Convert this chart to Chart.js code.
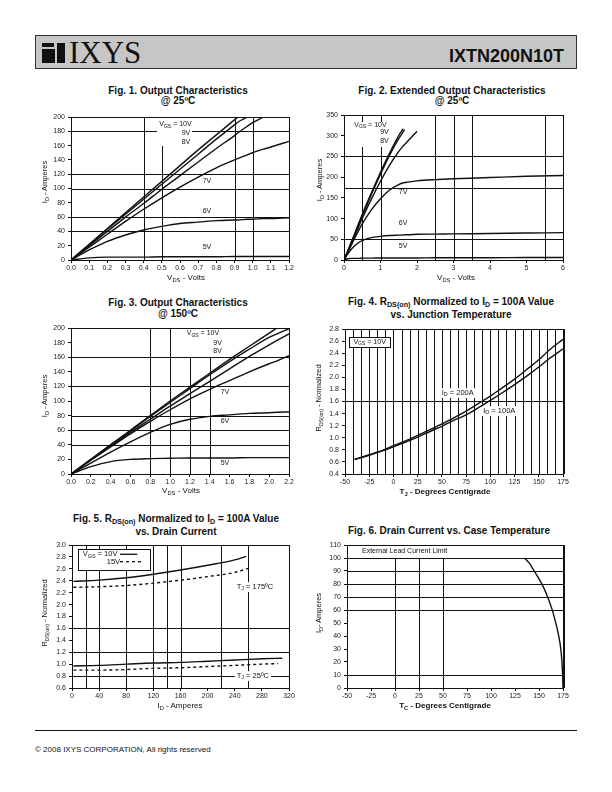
<!DOCTYPE html>
<html>
<head>
<meta charset="utf-8">
<script src="https://cdn.jsdelivr.net/npm/chart.js@4.4.1/dist/chart.umd.min.js"></script>
<style>
	body {
		margin: 0;
		width: 612px;
		height: 792px;
		position: relative;
		overflow: hidden;
		background: #fff;
		font-family: "Liberation Sans", Arial, sans-serif;
		color: #111;
	}
	canvas { position: absolute; }
	.t { position: absolute; white-space: nowrap; line-height: 1; transform: translate(-50%, -50%); }
	.fig { font-weight: bold; font-size: 10px; }
	.ax { font-size: 8px; }
	.axb { font-size: 8px; font-weight: bold; }
	.yt { font-size: 7.5px; transform: translate(-50%, -50%) rotate(-90deg); }
	.s { font-size: 0.72em; vertical-align: -0.3em; }
	.hdr { position: absolute; left: 35px; top: 35px; width: 540px; height: 32px; background: #c6c6c6; border: 1px solid #333; }
	.blk { position: absolute; background: #111; }
</style>
</head>
<body>

<!-- header -->
<div class="hdr"></div>
<div class="blk" style="left:42px;top:43px;width:12px;height:4px;"></div>
<div class="blk" style="left:42px;top:49px;width:13px;height:14px;"></div>
<div class="blk" style="left:57px;top:43px;width:8px;height:20px;"></div>
<div style="position:absolute;left:69px;top:37px;font:31px 'Liberation Serif','Times New Roman',serif;line-height:1;color:#111;">IXYS</div>
<div style="position:absolute;right:48px;top:46.5px;font:bold 18px 'Liberation Sans',Arial,sans-serif;line-height:1;color:#111;">IXTN200N10T</div>

<canvas id="fig1"></canvas>
<canvas id="fig2"></canvas>
<canvas id="fig3"></canvas>
<canvas id="fig4"></canvas>
<canvas id="fig5"></canvas>
<canvas id="fig6"></canvas>

<!-- titles -->
<div class="t fig" style="left:178px;top:91px;">Fig. 1. Output Characteristics</div>
<div class="t fig" style="left:178px;top:100.5px;">@ 25ºC</div>
<div class="t fig" style="left:452px;top:91px;">Fig. 2. Extended Output Characteristics</div>
<div class="t fig" style="left:452px;top:100.5px;">@ 25ºC</div>
<div class="t fig" style="left:178px;top:303px;">Fig. 3. Output Characteristics</div>
<div class="t fig" style="left:178px;top:313.5px;">@ 150ºC</div>
<div class="t fig" style="left:451px;top:303px;">Fig. 4. R<span class="s">DS(on)</span> Normalized to I<span class="s">D</span> = 100A Value</div>
<div class="t fig" style="left:451px;top:315px;">vs. Junction Temperature</div>
<div class="t fig" style="left:176px;top:520px;">Fig. 5. R<span class="s">DS(on)</span> Normalized to I<span class="s">D</span> = 100A Value</div>
<div class="t fig" style="left:176px;top:531.5px;">vs. Drain Current</div>
<div class="t fig" style="left:449px;top:531px;">Fig. 6. Drain Current vs. Case Temperature</div>

<!-- axis titles -->
<div class="t ax" style="left:186px;top:279px;">V<span class="s">DS</span> - Volts</div>
<div class="t ax" style="left:456px;top:279px;">V<span class="s">DS</span> - Volts</div>
<div class="t ax" style="left:181px;top:492px;">V<span class="s">DS</span> - Volts</div>
<div class="t axb" style="left:445px;top:493px;">T<span class="s">J</span> - Degrees Centigrade</div>
<div class="t ax" style="left:180px;top:707px;">I<span class="s">D</span> - Amperes</div>
<div class="t axb" style="left:445px;top:707px;">T<span class="s">C</span> - Degrees Centigrade</div>

<div class="t yt" style="left:46px;top:182px;">I<span class="s">D</span> - Amperes</div>
<div class="t yt" style="left:321px;top:180px;">I<span class="s">D</span> - Amperes</div>
<div class="t yt" style="left:46px;top:396px;">I<span class="s">D</span> - Amperes</div>
<div class="t yt" style="left:320px;top:398px;">R<span class="s">DS(on)</span> - Normalized</div>
<div class="t yt" style="left:46px;top:613px;">R<span class="s">DS(on)</span> - Normalized</div>
<div class="t yt" style="left:320px;top:613px;">I<span class="s">D</span>- Amperes</div>

<!-- footer -->
<div style="position:absolute;left:35px;top:730px;width:542px;height:1px;background:#111;"></div>
<div class="t" style="left:35px;top:750px;transform:translate(0,-50%);font-size:8px;">© 2008 IXYS CORPORATION, All rights reserved</div>

<script type="text/javascript">
	// ---- Fig. 1  output characteristics @25C ----
	var fig1Vds   = [0, 0.1, 0.2, 0.3, 0.4, 0.5, 0.6, 0.7, 0.8, 0.9, 0.92, 0.97, 1.0, 1.06, 1.1, 1.2];
	var fig1Id10V = [0, 22, 44, 66, 88, 110, 132, 154, 175, 196, 200, null, null, null, null, null];
	var fig1Id9V  = [0, 21, 43, 64, 85, 106, 127, 148, 169, 189, 193, 200, null, null, null, null];
	var fig1Id8V  = [0, 20, 40, 60, 79, 99, 118, 137, 156, 174, 178, 187, 192, 200, null, null];
	var fig1Id7V  = [0, 18, 36, 54, 71, 87, 102, 116, 129, 140, 142, 147, 150, 155, 158, 166];
	var fig1Id6V  = [0, 14, 26, 35, 42, 47, 51, 53, 55, 56, 56, 57, 57, 58, 58, 59];
	var fig1Id5V  = [0, 3, 4, 4, 4, 4.5, 4.5, 4.5, 4.5, 5, 5, 5, 5, 5, 5, 5];

	// ---- Fig. 2  extended output characteristics @25C ----
	var fig2Vds   = [0, 0.1, 0.2, 0.3, 0.4, 0.5, 0.75, 1.0, 1.25, 1.5, 1.62, 1.66, 1.75, 2.0, 2.5, 3, 4, 5, 6];
	var fig2Id10V = [0, 21, 43, 65, 88, 110, 162, 212, 258, 300, 317, null, null, null, null, null, null, null, null];
	var fig2Id9V  = [0, 21, 42, 64, 86, 107, 158, 207, 253, 293, 309, 315, null, null, null, null, null, null, null];
	var fig2Id8V  = [0, 20, 40, 60, 80, 100, 147, 190, 229, 262, 275, 279, 287, 311, null, null, null, null, null];
	var fig2Id7V  = [0, 18, 36, 54, 71, 87, 121, 148, 169, 182, 186, 187, 188, 191, 194, 196, 199, 202, 204];
	var fig2Id6V  = [0, 14, 26, 35, 42, 47, 54, 57, 59, 60, 60.5, 61, 61, 62, 62.5, 63, 64, 65, 66];
	var fig2Id5V  = [0, 3, 4, 4, 4, 4.5, 4.5, 5, 5, 5, 5, 5, 5, 5, 5.5, 5.5, 5.5, 6, 6];

	// ---- Fig. 3  output characteristics @150C ----
	var fig3Vds   = [0, 0.2, 0.4, 0.6, 0.8, 1.0, 1.2, 1.4, 1.6, 1.8, 2.0, 2.08, 2.2];
	var fig3Id10V = [0, 20, 40, 60, 80, 100, 119, 138, 157, 175, 193, 200, null];
	var fig3Id9V  = [0, 20, 40, 59, 79, 98, 117, 136, 154, 171, 187, 192, 199];
	var fig3Id8V  = [0, 19, 38, 57, 75, 93, 110, 127, 144, 161, 177, 183, 192];
	var fig3Id7V  = [0, 19, 37, 55, 72, 88, 103, 116, 128, 140, 151, 155, 162];
	var fig3Id6V  = [0, 15, 30, 44, 57, 68, 75, 79, 81, 83, 84, 84.5, 85];
	var fig3Id5V  = [0, 10, 17, 20, 21, 21.5, 22, 22, 22, 22.5, 22.5, 22.5, 22.5];

	// ---- Fig. 4  Rds(on) vs junction temperature ----
	var fig4Tj    = [-40, -25, -10, 0, 10, 25, 40, 50, 60, 75, 90, 100, 110, 125, 140, 150, 160, 175];
	var fig4R200A = [0.64, 0.72, 0.80, 0.87, 0.93, 1.04, 1.15, 1.23, 1.31, 1.44, 1.59, 1.69, 1.80, 1.97, 2.16, 2.29, 2.44, 2.63];
	var fig4R100A = [0.64, 0.71, 0.79, 0.85, 0.91, 1.01, 1.12, 1.19, 1.27, 1.38, 1.52, 1.62, 1.72, 1.88, 2.05, 2.17, 2.30, 2.47];

	// ---- Fig. 5  Rds(on) vs drain current ----
	var fig5IdHot10   = [2, 40, 80, 120, 160, 200, 240, 257];
	var fig5RHot10    = [2.39, 2.41, 2.45, 2.51, 2.58, 2.66, 2.75, 2.81];
	var fig5IdHot15   = [2, 40, 80, 120, 160, 200, 240, 263];
	var fig5RHot15    = [2.29, 2.30, 2.32, 2.36, 2.41, 2.47, 2.54, 2.62];
	var fig5IdCold10  = [2, 40, 80, 120, 160, 200, 240, 280, 310];
	var fig5RCold10   = [0.97, 0.98, 1.00, 1.02, 1.03, 1.05, 1.07, 1.09, 1.10];
	var fig5IdCold15  = [2, 40, 80, 120, 160, 200, 240, 280, 304];
	var fig5RCold15   = [0.90, 0.90, 0.91, 0.93, 0.94, 0.96, 0.98, 1.00, 1.01];

	// ---- Fig. 6  drain current vs case temperature ----
	var fig6Tc = [135, 140, 145, 150, 155, 160, 165, 170, 173, 174.5, 175];
	var fig6Id = [100, 96, 90, 84, 77, 68, 57, 42, 28, 12, 0];

	// grid lines actually printed on each plot ([value, from, to] = partial line)
	var fig1GridV = [0.4, [0.5, 0, 160], 0.9, 1.0];
	var fig1GridH = [180, 120, 100, 60, 40];
	var fig2GridV = [0.5, 1.0, 2.5, 3.0, 3.5, 5.5];
	var fig2GridH = [250, 175, 50];
	var fig3GridV = [0.8, 1.0, [1.2, 0, 160], [1.4, 0, 160]];
	var fig3GridH = [160, 120, 80, 60, 40];
	var fig4GridV = [-41.67, -33.33, -25, -16.67, -8.33, 0, 8.33, 16.67, 25, 33.33, 41.67, 50, 58.33, 66.67,
		75, 83.33, 91.67, 100, 108.33, 116.67, 125, 133.33, 141.67, 150, 158.33, 166.67];
	var fig4GridH = [1.6];
	var fig5GridV = [20, 40, 80, 120, 140, 160, 220, 260];
	var fig5GridH = [1.6, 1.2, 0.8];
	var fig6GridV = [[0, 0, 100], [25, 0, 100], [50, 0, 100]];
	var fig6GridH = [100, 90, 80, 70, 60, 10];

	var FONT = '"Liberation Sans", Arial, sans-serif';
	Chart.defaults.font.family = FONT;
	Chart.defaults.font.size = 7;
	Chart.defaults.color = '#222';

	var YW = 40, PT = 8, PR = 14, XH = 16;

	function pts(xs, ys) {
		var out = [];
		xs.forEach(function(x, i) {
			if (ys[i] !== null && ys[i] !== undefined) out.push({x: x, y: ys[i]});
		});
		return out;
	}

	// text with _{sub} parts
	function drawRich(ctx, str, x, y, size, align, bold) {
		var segs = [], re = /_\{([^}]*)\}/g, last = 0, m;
		while ((m = re.exec(str))) {
			if (m.index > last) segs.push({t: str.slice(last, m.index)});
			segs.push({t: m[1], sub: true});
			last = re.lastIndex;
		}
		if (last < str.length) segs.push({t: str.slice(last)});
		var f = function(s) { return (bold ? 'bold ' : '') + s + 'px ' + FONT; };
		var w = 0;
		segs.forEach(function(s) { ctx.font = f(s.sub ? size * 0.72 : size); s.w = ctx.measureText(s.t).width; w += s.w; });
		if (ctx.__measureOnly) return w;
		var cx = align === 'center' ? x - w / 2 : (align === 'right' ? x - w : x);
		ctx.textBaseline = 'middle';
		ctx.textAlign = 'left';
		ctx.fillStyle = '#111';
		segs.forEach(function(s) {
			ctx.font = f(s.sub ? size * 0.72 : size);
			ctx.fillText(s.t, cx, s.sub ? y + size * 0.3 : y);
			cx += s.w;
		});
		return w;
	}

	var sheetPlugin = {
		id: 'sheet',
		beforeDatasetsDraw: function(chart) {
			var o = chart.options.plugins.sheet, ctx = chart.ctx, a = chart.chartArea;
			var sx = chart.scales.x, sy = chart.scales.y;
			var snap = function(v) { return Math.round(v) + 0.5; };
			ctx.save();
			ctx.beginPath();
			ctx.rect(a.left, a.top, a.right - a.left, a.bottom - a.top);
			ctx.clip();
			ctx.strokeStyle = '#111';
			ctx.lineWidth = 1;
			(o.gridV || []).forEach(function(g) {
				var v = Array.isArray(g) ? g : [g, sy.min, sy.max];
				var px = snap(sx.getPixelForValue(v[0]));
				ctx.beginPath();
				ctx.moveTo(px, sy.getPixelForValue(v[1]));
				ctx.lineTo(px, sy.getPixelForValue(v[2]));
				ctx.stroke();
			});
			(o.gridH || []).forEach(function(g) {
				var v = Array.isArray(g) ? g : [g, sx.min, sx.max];
				var py = snap(sy.getPixelForValue(v[0]));
				ctx.beginPath();
				ctx.moveTo(sx.getPixelForValue(v[1]), py);
				ctx.lineTo(sx.getPixelForValue(v[2]), py);
				ctx.stroke();
			});
			(o.boxes || []).forEach(function(b) {
				var x0 = Math.round(sx.getPixelForValue(b.x0)), x1 = Math.round(sx.getPixelForValue(b.x1));
				var y0 = Math.round(sy.getPixelForValue(b.y1)), y1 = Math.round(sy.getPixelForValue(b.y0));
				ctx.fillStyle = '#fff';
				ctx.fillRect(x0, y0, x1 - x0, y1 - y0);
				if (b.border) {
					ctx.lineWidth = 1;
					ctx.strokeRect(x0 + 0.5, y0 + 0.5, x1 - x0, y1 - y0);
				}
			});
			(o.notes || []).forEach(function(n) {
				var size = n.size || 7;
				var px = sx.getPixelForValue(n.x), py = sy.getPixelForValue(n.y);
				if (n.bg) {
					ctx.__measureOnly = true;
					var w = drawRich(ctx, n.text, px, py, size, n.align, n.bold);
					ctx.__measureOnly = false;
					var lx = n.align === 'center' ? px - w / 2 : (n.align === 'right' ? px - w : px);
					ctx.fillStyle = '#fff';
					ctx.fillRect(lx - 2, py - size * 0.6, w + 4, size * 1.3);
				}
				drawRich(ctx, n.text, px, py, size, n.align, n.bold);
			});
			(o.samples || []).forEach(function(s) {
				ctx.beginPath();
				ctx.lineWidth = 1.3;
				ctx.setLineDash(s.dash || []);
				var py = sy.getPixelForValue(s.y);
				ctx.moveTo(sx.getPixelForValue(s.x0), py);
				ctx.lineTo(sx.getPixelForValue(s.x1), py);
				ctx.stroke();
				ctx.setLineDash([]);
			});
			ctx.restore();
		},
		afterDatasetsDraw: function(chart) {
			var o = chart.options.plugins.sheet, ctx = chart.ctx, a = chart.chartArea;
			ctx.save();
			ctx.strokeStyle = '#111';
			ctx.lineWidth = 1;
			ctx.strokeRect(Math.round(a.left) + 0.5, Math.round(a.top) + 0.5,
				Math.round(a.right) - Math.round(a.left), Math.round(a.bottom) - Math.round(a.top));
			if (o.thickRight) {
				ctx.lineWidth = 2;
				ctx.beginPath();
				ctx.moveTo(Math.round(a.right) + 1, a.top);
				ctx.lineTo(Math.round(a.right) + 1, a.bottom);
				ctx.stroke();
			}
			ctx.restore();
		}
	};

	function axis(min, max, step, fmt, isX) {
		return {
			type: 'linear',
			min: min,
			max: max,
			afterFit: function(s) { if (isX) s.height = XH; else s.width = YW; },
			ticks: {
				stepSize: step,
				autoSkip: false,
				maxRotation: 0,
				padding: isX ? 1 : 3,
				color: '#222',
				font: {size: 7},
				callback: function(v) { return fmt ? v.toFixed(fmt) : String(Math.round(v)); }
			},
			grid: {drawOnChartArea: false, drawTicks: true, tickLength: 3, color: '#111'},
			border: {display: false}
		};
	}

	function makeChart(id, plot, xAx, yAx, series, sheet) {
		var cv = document.getElementById(id);
		var w = plot.r - plot.l + YW + PR, h = plot.b - plot.t + PT + XH;
		cv.width = w;
		cv.height = h;
		cv.style.left = (plot.l - YW) + 'px';
		cv.style.top = (plot.t - PT) + 'px';
		cv.style.width = w + 'px';
		cv.style.height = h + 'px';
		return new Chart(cv, {
			type: 'line',
			data: {
				datasets: series.map(function(s) {
					return {
						data: s.data,
						borderColor: '#111',
						borderWidth: 1.4,
						borderDash: s.dash || [],
						pointRadius: 0,
						fill: false,
						cubicInterpolationMode: 'monotone'
					};
				})
			},
			options: {
				responsive: false,
				animation: false,
				events: [],
				layout: {padding: {left: 0, top: PT, right: PR, bottom: 0}},
				plugins: {legend: {display: false}, tooltip: {enabled: false}, sheet: sheet},
				scales: {x: xAx, y: yAx}
			},
			plugins: [sheetPlugin]
		});
	}

	makeChart('fig1', {l: 71, t: 117, r: 289, b: 260},
		axis(0, 1.2, 0.1, 1, true), axis(0, 200, 20, 0, false),
		[{data: pts(fig1Vds, fig1Id10V)}, {data: pts(fig1Vds, fig1Id9V)}, {data: pts(fig1Vds, fig1Id8V)},
		 {data: pts(fig1Vds, fig1Id7V)}, {data: pts(fig1Vds, fig1Id6V)}, {data: pts(fig1Vds, fig1Id5V)}],
		{
			gridV: fig1GridV, gridH: fig1GridH,
			boxes: [{x0: 0.473, x1: 0.666, y0: 160, y1: 200}],
			notes: [
				{text: 'V_{GS} = 10V', x: 0.486, y: 190},
				{text: '9V', x: 0.609, y: 178},
				{text: '8V', x: 0.609, y: 165.5},
				{text: '7V', x: 0.725, y: 111},
				{text: '6V', x: 0.725, y: 68.5},
				{text: '5V', x: 0.725, y: 18.6}
			]
		});

	makeChart('fig2', {l: 344, t: 115, r: 563, b: 260},
		axis(0, 6, 1, 0, true), axis(0, 350, 50, 0, false),
		[{data: pts(fig2Vds, fig2Id10V)}, {data: pts(fig2Vds, fig2Id9V)}, {data: pts(fig2Vds, fig2Id8V)},
		 {data: pts(fig2Vds, fig2Id7V)}, {data: pts(fig2Vds, fig2Id6V)}, {data: pts(fig2Vds, fig2Id5V)}],
		{
			gridV: fig2GridV, gridH: fig2GridH,
			boxes: [{x0: 0.25, x1: 1.2, y0: 272, y1: 333}],
			notes: [
				{text: 'V_{GS} = 10V', x: 0.28, y: 326},
				{text: '9V', x: 0.99, y: 308},
				{text: '8V', x: 0.99, y: 288},
				{text: '7V', x: 1.5, y: 164},
				{text: '6V', x: 1.5, y: 88.5},
				{text: '5V', x: 1.5, y: 33.8}
			]
		});

	makeChart('fig3', {l: 71, t: 328, r: 289, b: 474},
		axis(0, 2.2, 0.2, 1, true), axis(0, 200, 20, 0, false),
		[{data: pts(fig3Vds, fig3Id10V)}, {data: pts(fig3Vds, fig3Id9V)}, {data: pts(fig3Vds, fig3Id8V)},
		 {data: pts(fig3Vds, fig3Id7V)}, {data: pts(fig3Vds, fig3Id6V)}, {data: pts(fig3Vds, fig3Id5V)}],
		{
			gridV: fig3GridV, gridH: fig3GridH,
			notes: [
				{text: 'V_{GS} = 10V', x: 1.168, y: 192.7},
				{text: '9V', x: 1.436, y: 180},
				{text: '8V', x: 1.436, y: 169},
				{text: '7V', x: 1.51, y: 112},
				{text: '6V', x: 1.51, y: 72},
				{text: '5V', x: 1.51, y: 15.5}
			]
		});

	makeChart('fig4', {l: 345, t: 329, r: 563, b: 474},
		axis(-50, 175, 25, 0, true), axis(0.4, 2.8, 0.2, 1, false),
		[{data: pts(fig4Tj, fig4R200A)}, {data: pts(fig4Tj, fig4R100A)}],
		{
			gridV: fig4GridV, gridH: fig4GridH, thickRight: true,
			boxes: [{x0: -45.6, x1: -3.6, y0: 2.507, y1: 2.673, border: true}],
			notes: [
				{text: 'V_{GS} = 10V', x: -24.6, y: 2.59, align: 'center'},
				{text: 'I_{D} = 200A', x: 49.8, y: 1.746, bg: true, size: 7.5},
				{text: 'I_{D} = 100A', x: 92.7, y: 1.448, bg: true, size: 7.5}
			]
		});

	makeChart('fig5', {l: 72, t: 545, r: 289, b: 688},
		axis(0, 320, 40, 0, true), axis(0.6, 3.0, 0.2, 1, false),
		[{data: pts(fig5IdHot10, fig5RHot10)}, {data: pts(fig5IdHot15, fig5RHot15), dash: [3, 3]},
		 {data: pts(fig5IdCold10, fig5RCold10)}, {data: pts(fig5IdCold15, fig5RCold15), dash: [3, 3]}],
		{
			gridV: fig5GridV, gridH: fig5GridH,
			boxes: [{x0: 8.4, x1: 115, y0: 2.58, y1: 2.933, border: true}],
			notes: [
				{text: 'V_{GS} = 10V', x: 15.8, y: 2.844, size: 7.5},
				{text: '15V', x: 51.2, y: 2.72, size: 7.5},
				{text: 'T_{J} = 175ºC', x: 242.9, y: 2.30, bg: true, size: 7.5},
				{text: 'T_{J} = 25ºC', x: 242.9, y: 0.806, bg: true, size: 7.5}
			],
			samples: [
				{x0: 70.8, x1: 96.3, y: 2.844},
				{x0: 70.8, x1: 104.7, y: 2.72, dash: [3, 3]}
			]
		});

	makeChart('fig6', {l: 347, t: 545, r: 563, b: 688},
		axis(-50, 175, 25, 0, true), axis(0, 110, 10, 0, false),
		[{data: pts(fig6Tc, fig6Id)}],
		{
			gridV: fig6GridV, gridH: fig6GridH, thickRight: true,
			notes: [
				{text: 'External Lead Current Limit', x: -34.4, y: 105.6}
			]
		});
</script>
</body>
</html>
